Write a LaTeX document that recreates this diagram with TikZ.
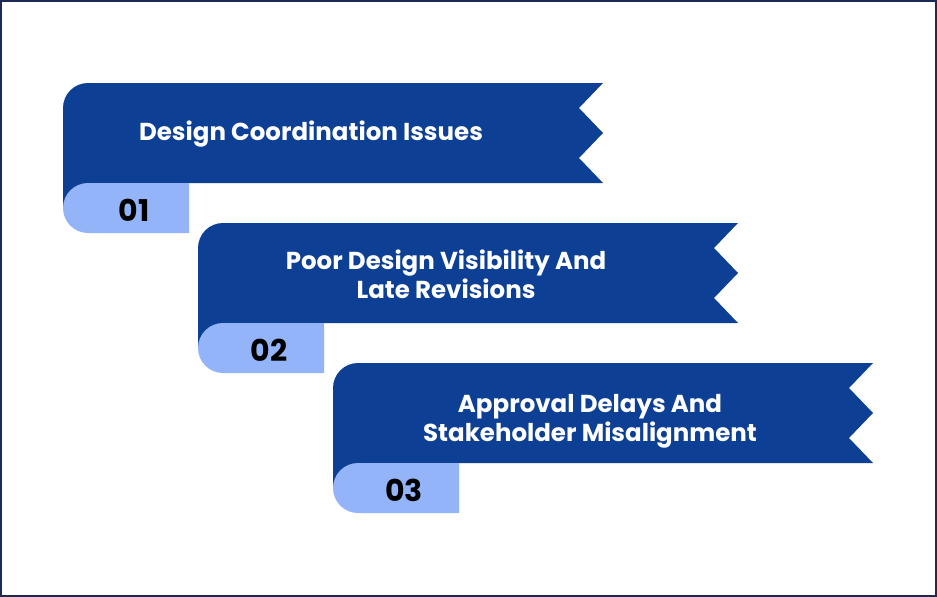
\documentclass[tikz,border=0pt]{standalone}
\usepackage{fontspec}
\setmainfont{Poppins}
\definecolor{frame}{HTML}{1B2A56}
\definecolor{ban}{HTML}{0D3F94}
\definecolor{tab}{HTML}{93B4F8}
\begin{document}
\begin{tikzpicture}[x=1pt,y=-1pt,
  title/.style={text=white,font=\bfseries\fontsize{24.5}{29}\selectfont,align=center},
  num/.style={text=black,font=\bfseries\fontsize{30}{30}\selectfont}]
\useasboundingbox (0,0) rectangle (937,597);
\draw[frame,line width=2pt] (1,1) rectangle (936,596);
\foreach \L/\T in {63/83,198/223,333/363}{
  \fill[ban] (\L,\T+125) -- (\L,\T+25) arc[start angle=180,end angle=270,radius=25]
    -- (\L+540,\T) -- (\L+516,\T+25) -- (\L+540,\T+50) -- (\L+516,\T+75)
    -- (\L+540,\T+100) -- (\L+25,\T+100) -- (\L+25,\T+125) -- cycle;
  \fill[tab] (\L+126,\T+100) -- (\L+126,\T+150) -- (\L+25,\T+150)
    arc[start angle=90,end angle=270,radius=25] -- cycle;
}
\node[title] (t1) at (311,134) {Design Coordination Issues};
\node[title] (t2) at (446,274) {Poor Design Visibility And\\Late Revisions};
\node[title] (t3) at (590,421) {Approval Delays And\\Stakeholder Misalignment};
\node[num] (n1) at (134,210) {01};
\node[num] (n2) at (269,350) {02};
\node[num] (n3) at (404,490) {03};
\end{tikzpicture}
\end{document}
